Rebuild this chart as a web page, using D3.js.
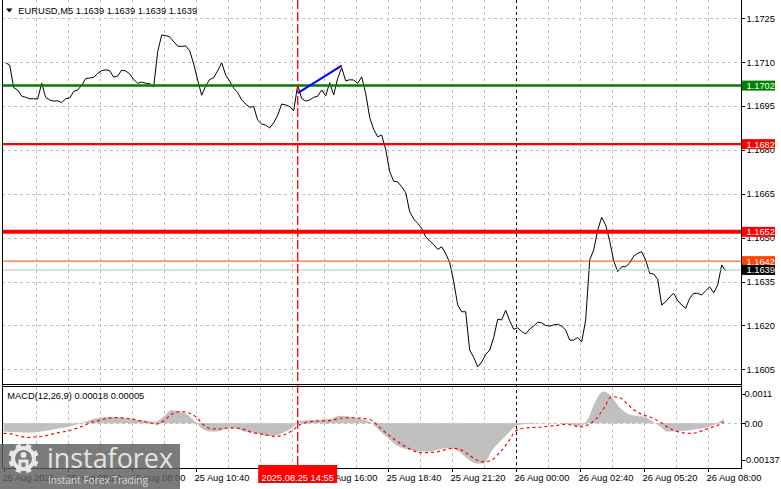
<!DOCTYPE html>
<html><head><meta charset="utf-8">
<script src="https://cdn.jsdelivr.net/npm/d3@7"></script>
<style>html,body{margin:0;padding:0;background:#fff;overflow:hidden}</style>
</head><body>
<svg id="c" width="781" height="489"></svg>
<script>
// ---------------- DATA ----------------
const symbolTitle = "EURUSD,M5  1.1639 1.1639 1.1639 1.1639";
const macdTitle = "MACD(12,26,9) 0.00018 0.00005";

// close prices, every 10 minutes from 25 Aug 02:45 (UTC label time)
const closeStart = Date.UTC(2025, 7, 25, 2, 45);
const closeStepMin = 10;
const closes = [
 1.17098,1.17090,1.17013,1.17005,1.16984,1.16980,1.16975,1.16975,1.16974,1.17028,
 1.16980,1.16971,1.16967,1.16968,1.16962,1.16975,1.16978,1.17000,1.17005,1.17021,
 1.17044,1.17046,1.17048,1.17062,1.17071,1.17074,1.17071,1.17049,1.17053,1.17073,
 1.17070,1.17060,1.17041,1.17028,1.17032,1.17028,1.17027,1.17016,1.17136,1.17193,
 1.17191,1.17187,1.17170,1.17155,1.17154,1.17156,1.17139,1.17094,1.17039,1.16987,
 1.17019,1.17041,1.17047,1.17071,1.17098,1.17056,1.17035,1.17011,1.16996,1.16971,
 1.16957,1.16946,1.16948,1.16902,1.16889,1.16885,1.16875,1.16893,1.16919,1.16957,
 1.16954,1.16948,1.16934,1.17022,1.16976,1.16967,1.16971,1.16980,1.16984,1.17005,
 1.16985,1.17030,1.16988,1.17045,1.17081,1.17036,1.17040,1.17039,1.17028,1.17050,
 1.16993,1.16911,1.16870,1.16845,1.16851,1.16802,1.16726,1.16693,1.16691,1.16674,
 1.16654,1.16589,1.16564,1.16549,1.16532,1.16503,1.16489,1.16477,1.16460,1.16469,
 1.16446,1.16415,1.16350,1.16270,1.16247,1.16247,1.16116,1.16091,1.16059,1.16075,
 1.16101,1.16116,1.16159,1.16221,1.16219,1.16252,1.16216,1.16187,1.16192,1.16179,
 1.16171,1.16188,1.16198,1.16211,1.16209,1.16200,1.16198,1.16202,1.16204,1.16198,
 1.16184,1.16150,1.16150,1.16159,1.16144,1.16219,1.16424,1.16458,1.16526,1.16570,
 1.16543,1.16489,1.16421,1.16384,1.16401,1.16401,1.16414,1.16437,1.16447,1.16452,
 1.16424,1.16378,1.16376,1.16358,1.16270,1.16281,1.16298,1.16310,1.16285,1.16270,
 1.16259,1.16293,1.16310,1.16310,1.16304,1.16319,1.16332,1.16312,1.16338,1.16407,1.16386
];

// MACD main (histogram) and signal, every 20 minutes from 25 Aug 02:40
const macdStart = Date.UTC(2025, 7, 25, 2, 40);
const macdStepMin = 20;
const macdMain = [
 -0.00031,-0.00033,-0.00034,-0.00035,-0.00034,-0.00029,-0.00024,-0.00019,-0.00014,-0.00006,
  0.00003, 0.00014, 0.00021, 0.00024, 0.00024, 0.00021, 0.00016, 0.00011, 0.00009, 0.00006,
  0.00025, 0.00050, 0.00044, 0.00031, 0.00004,-0.00024,-0.00031,-0.00029,-0.00019,-0.00019,
 -0.00031,-0.00034,-0.00041,-0.00048,-0.00046,-0.00034,-0.00019, 0.00009, 0.00011, 0.00013,
  0.00014, 0.00018, 0.00028, 0.00025, 0.00020, 0.00014, 0.00001,-0.00029,-0.00054,-0.00081,
 -0.00095,-0.00100,-0.00106,-0.00106,-0.00101,-0.00095,-0.00094,-0.00109,-0.00134,-0.00151,
 -0.00151,-0.00104,-0.00069,-0.00040,-0.00011,-0.00004,-0.00003,-0.00001,-0.00001, 0.00000,
 -0.00001,-0.00005,-0.00013, 0.00015, 0.00084, 0.00119, 0.00100, 0.00059, 0.00036, 0.00028,
  0.00025, 0.00009,-0.00011,-0.00031,-0.00031,-0.00028,-0.00025,-0.00021,-0.00014,-0.00004,
  0.00018
];
const macdSignal = [
 -0.00038,-0.00040,-0.00049,-0.00053,-0.00051,-0.00048,-0.00041,-0.00034,-0.00029,-0.00020,
 -0.00009, 0.00004, 0.00011, 0.00019, 0.00021, 0.00020, 0.00016, 0.00010, 0.00004,-0.00003,
  0.00009, 0.00034, 0.00044, 0.00040, 0.00025,-0.00006,-0.00021,-0.00021,-0.00018,-0.00018,
 -0.00023,-0.00034,-0.00039,-0.00045,-0.00050,-0.00044,-0.00029,-0.00006, 0.00004, 0.00008,
  0.00009, 0.00011, 0.00018, 0.00021, 0.00020, 0.00018, 0.00011,-0.00016,-0.00041,-0.00064,
 -0.00084,-0.00100,-0.00110,-0.00110,-0.00108,-0.00101,-0.00094,-0.00098,-0.00115,-0.00136,
 -0.00145,-0.00138,-0.00110,-0.00073,-0.00029,-0.00019,-0.00016,-0.00015,-0.00011,-0.00009,
 -0.00004,-0.00006,-0.00014,-0.00006, 0.00015, 0.00056, 0.00100, 0.00096, 0.00071, 0.00046,
  0.00031, 0.00021, 0.00006,-0.00015,-0.00029,-0.00036,-0.00038,-0.00031,-0.00020,-0.00011,
  0.00005
];

const priceTicks = [1.1725, 1.1710, 1.1695, 1.1680, 1.1665, 1.1650, 1.1635, 1.1620, 1.1605];
const priceTickLabels = ["1.1725","1.1710","1.1695","1.1680","1.1665","1.1650","1.1635","1.1620","1.1605"];
const macdTicks = [0.0011, 0, -0.00137];
const macdTickLabels = ["0.0011", "0.00", "-0.00137"];

const timeTicks = [
 Date.UTC(2025,7,25,2,40), Date.UTC(2025,7,25,5,20), Date.UTC(2025,7,25,8,0),
 Date.UTC(2025,7,25,10,40), Date.UTC(2025,7,25,13,20), Date.UTC(2025,7,25,16,0),
 Date.UTC(2025,7,25,18,40), Date.UTC(2025,7,25,21,20), Date.UTC(2025,7,26,0,0),
 Date.UTC(2025,7,26,2,40), Date.UTC(2025,7,26,5,20), Date.UTC(2025,7,26,8,0)
];
const timeTickLabels = ["25 Aug 2025","25 Aug 05:20","25 Aug 08:00","25 Aug 10:40","25 Aug 13:20",
 "25 Aug 16:00","25 Aug 18:40","25 Aug 21:20","26 Aug 00:00","26 Aug 02:40","26 Aug 05:20","26 Aug 08:00"];

const levelPrices = [1.1702, 1.1682, 1.1652];
const levelLabels = ["1.1702", "1.1682", "1.1652"];
const markPrice = 1.1642, markLabel = "1.1642";
const bidPrice = 1.1639, bidLabel = "1.1639";

const trendTimes = [Date.UTC(2025,7,25,14,55), Date.UTC(2025,7,25,16,45)];
const trendPrices = [1.16994, 1.17088];

const cursorTime = Date.UTC(2025,7,25,14,55);
const cursorLabel = "2025.08.25 14:55";
const daySeparator = Date.UTC(2025,7,26,0,0);

const brandName = "instaforex";
const brandSlogan = "Instant Forex Trading";

// ---------------- SCALES ----------------
const svg = d3.select("#c");
const FONT = "'Liberation Sans', Arial, sans-serif";
const FS = 9.3;
const plotL = 2, plotR = 741;
const mainTop = 0, mainBot = 384;
const macdTop = 386.5, macdBot = 468;

const x = d3.scaleUtc()
  .domain([new Date(Date.UTC(2025,7,25,2,40)), new Date(Date.UTC(2025,7,26,8,45))])
  .range([3.7, 725.7]);
const y = d3.scaleLinear().domain([1.16, 1.173126]).range([mainBot, mainTop]);
const yM = d3.scaleLinear().domain([-0.00168, 0.0014]).range([macdBot, 386]);

const closePts = closes.map((v, i) => ({t: new Date(closeStart + i * closeStepMin * 60000), v}));
const macdPts = macdMain.map((v, i) => ({t: new Date(macdStart + i * macdStepMin * 60000), m: v, s: macdSignal[i]}));

svg.append("rect").attr("width", 781).attr("height", 489).attr("fill", "#fff");

// ---------------- GRID ----------------
const gridTimes = d3.range(1, 23).map(k => new Date(Date.UTC(2025,7,25,2,40) + k * 80 * 60000));
const grid = svg.append("g").attr("stroke", "#c0c0c0").attr("stroke-dasharray", "3,3")
  .attr("shape-rendering", "crispEdges");
gridTimes.forEach(t => {
  if (+t === daySeparator) return;
  const gx = Math.round(x(t)) + 0.5;
  grid.append("line").attr("x1", gx).attr("x2", gx).attr("y1", mainTop).attr("y2", mainBot);
  grid.append("line").attr("x1", gx).attr("x2", gx).attr("y1", macdTop).attr("y2", macdBot);
});
priceTicks.forEach(p => {
  const gy = Math.round(y(p)) + 0.5;
  grid.append("line").attr("x1", plotL).attr("x2", plotR).attr("y1", gy).attr("y2", gy);
});
grid.append("line").attr("x1", plotL).attr("x2", plotR)
  .attr("y1", Math.round(yM(0)) + 0.5).attr("y2", Math.round(yM(0)) + 0.5);

// day separator
const dsx = Math.round(x(new Date(daySeparator))) + 0.5;
svg.append("line").attr("x1", dsx).attr("x2", dsx).attr("y1", mainTop).attr("y2", macdBot)
  .attr("stroke", "#000").attr("stroke-dasharray", "3,3").attr("shape-rendering", "crispEdges");

// ---------------- MACD ----------------
svg.append("path").datum(macdPts)
  .attr("d", d3.area().x(d => x(d.t)).y0(yM(0)).y1(d => yM(d.m)).curve(d3.curveMonotoneX))
  .attr("fill", "#c0c0c0");
svg.append("path").datum(macdPts)
  .attr("d", d3.line().x(d => x(d.t)).y(d => yM(d.s)).curve(d3.curveMonotoneX))
  .attr("fill", "none").attr("stroke", "#ff0000").attr("stroke-width", 1.2)
  .attr("stroke-dasharray", "3,3");

// ---------------- PRICE ----------------
svg.append("path").datum(closePts)
  .attr("d", d3.line().x(d => x(d.t)).y(d => y(d.v)))
  .attr("fill", "none").attr("stroke", "#000").attr("stroke-width", 1);

// bid / mark lines
svg.append("line").attr("x1", plotL).attr("x2", plotR).attr("y1", y(bidPrice)).attr("y2", y(bidPrice))
  .attr("stroke", "#c0c0c0").attr("stroke-width", 1);
svg.append("line").attr("x1", plotL).attr("x2", plotR).attr("y1", y(markPrice)).attr("y2", y(markPrice))
  .attr("stroke", "#ff4500").attr("stroke-width", 1);

// levels
const levelColors = ["#008000", "#ff0000", "#ff0000"];
const levelWidths = [2.5, 2.2, 4];
levelPrices.forEach((p, i) => {
  svg.append("line").attr("x1", plotL).attr("x2", plotR).attr("y1", y(p)).attr("y2", y(p))
    .attr("stroke", levelColors[i]).attr("stroke-width", levelWidths[i]);
});

// trend line
svg.append("line")
  .attr("x1", x(new Date(trendTimes[0]))).attr("y1", y(trendPrices[0]))
  .attr("x2", x(new Date(trendTimes[1]))).attr("y2", y(trendPrices[1]))
  .attr("stroke", "#0000ff").attr("stroke-width", 2);

// cursor vertical
const cx = x(new Date(cursorTime));
svg.append("line").attr("x1", cx).attr("x2", cx).attr("y1", mainTop).attr("y2", macdBot)
  .attr("stroke", "#ff0000").attr("stroke-width", 1.3).attr("stroke-dasharray", "9,3");

// ---------------- FRAME ----------------
const frame = svg.append("g").attr("stroke", "#000").attr("shape-rendering", "crispEdges");
frame.append("line").attr("x1", plotL + 0.5).attr("x2", plotL + 0.5).attr("y1", 0).attr("y2", macdBot);
frame.append("line").attr("x1", plotR + 0.5).attr("x2", plotR + 0.5).attr("y1", 0).attr("y2", macdBot + 0.5);
frame.append("line").attr("x1", plotL).attr("x2", plotR).attr("y1", mainBot + 0.5).attr("y2", mainBot + 0.5);
frame.append("line").attr("x1", plotL).attr("x2", plotR).attr("y1", macdTop).attr("y2", macdTop);
frame.append("line").attr("x1", plotL).attr("x2", plotR + 1).attr("y1", macdBot + 0.5).attr("y2", macdBot + 0.5);

// ---------------- AXES ----------------
const txt = (sel) => sel.attr("font-family", FONT).attr("font-size", FS);
priceTicks.forEach((p, i) => {
  const ty = y(p);
  frame.append("line").attr("x1", plotR).attr("x2", plotR + 4).attr("y1", Math.round(ty) + 0.5).attr("y2", Math.round(ty) + 0.5);
  svg.append("text").call(txt).attr("x", 746.5).attr("y", ty + 3.4).attr("fill", "#000").text(priceTickLabels[i]);
});
macdTicks.forEach((m, i) => {
  const ty = yM(m);
  frame.append("line").attr("x1", plotR).attr("x2", plotR + 4).attr("y1", Math.round(ty) + 0.5).attr("y2", Math.round(ty) + 0.5);
  svg.append("text").call(txt).attr("x", m < 0 ? 743 : 744.5).attr("y", ty + 3.4).attr("fill", "#000").text(macdTickLabels[i]);
});
timeTicks.forEach((t, i) => {
  const tx = Math.round(x(new Date(t))) + 0.5;
  frame.append("line").attr("x1", tx).attr("x2", tx).attr("y1", macdBot).attr("y2", macdBot + 4);
  svg.append("text").call(txt).attr("x", x(new Date(t)) - 1.2).attr("y", 481).attr("fill", "#000").text(timeTickLabels[i]);
});

// price label boxes
function priceBox(p, label, bg, fg) {
  const ty = y(p);
  svg.append("rect").attr("x", 742).attr("y", ty - 5).attr("width", 33).attr("height", 10).attr("fill", bg);
  svg.append("text").call(txt).attr("x", 746.5).attr("y", ty + 3.4).attr("fill", fg).text(label);
}
levelPrices.forEach((p, i) => priceBox(p, levelLabels[i], levelColors[i], "#fff"));
priceBox(markPrice, markLabel, "#ff4500", "#fff");
priceBox(bidPrice, bidLabel, "#000", "#fff");

// cursor time box
svg.append("rect").attr("x", cx - 39.5).attr("y", 465).attr("width", 79).attr("height", 18).attr("fill", "#ff0000");
svg.append("text").call(txt).attr("x", cx).attr("y", 481).attr("text-anchor", "middle").attr("fill", "#fff").text(cursorLabel);

// ---------------- TITLES ----------------
svg.append("path").attr("d", "M6,8.5 L12.5,8.5 L9.25,12.5 Z").attr("fill", "#000");
svg.append("text").call(txt).attr("x", 18.3).attr("y", 14.3).attr("fill", "#000").text(symbolTitle);
svg.append("text").call(txt).attr("x", 7.3).attr("y", 399).attr("fill", "#000").text(macdTitle);

// ---------------- LOGO ----------------
const logo = svg.append("g");
logo.append("rect").attr("x", 0).attr("y", 444).attr("width", 180).attr("height", 45)
  .attr("fill", "#5e5e5e").attr("opacity", 0.82);
const gcx = 23.5, gcy = 458.5;
const gear = logo.append("g").attr("fill", "#e8e8e8");
d3.range(8).forEach(k => {
  gear.append("rect").attr("x", gcx - 2.6).attr("y", gcy - 15).attr("width", 5.2).attr("height", 6)
    .attr("transform", `rotate(${k * 45 + 22.5},${gcx},${gcy})`);
});
logo.append("circle").attr("cx", gcx).attr("cy", gcy).attr("r", 10.5).attr("fill", "none")
  .attr("stroke", "#e8e8e8").attr("stroke-width", 4);
logo.append("circle").attr("cx", gcx).attr("cy", gcy - 3.5).attr("r", 3).attr("fill", "#e8e8e8");
logo.append("path").attr("d", `M${gcx-5},${gcy+9} L${gcx-5},${gcy+1} L${gcx+5},${gcy+1} L${gcx+5},${gcy+9} L${gcx+2},${gcy+9} L${gcx+2},${gcy+4} L${gcx-2},${gcy+4} L${gcx-2},${gcy+9} Z`)
  .attr("fill", "#e8e8e8");
logo.append("text").attr("x", 47).attr("y", 468).attr("font-family", "'Open Sans', sans-serif")
  .attr("font-size", 27).attr("fill", "#e4e4e4").attr("textLength", 126).attr("lengthAdjust", "spacingAndGlyphs")
  .text(brandName);
logo.append("text").attr("x", 48).attr("y", 483.5).attr("font-family", "'Open Sans', sans-serif")
  .attr("font-size", 10.5).attr("fill", "#d8d8d8").attr("textLength", 100).attr("lengthAdjust", "spacingAndGlyphs")
  .text(brandSlogan);
</script>
</body></html>
